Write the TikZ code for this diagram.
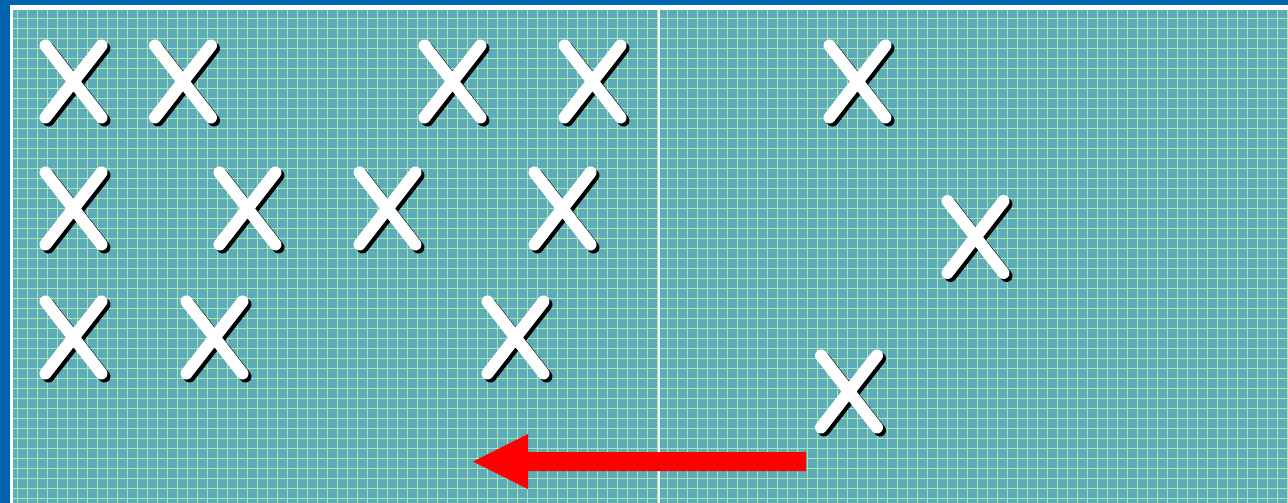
\documentclass[tikz,border=0pt]{standalone}
\usetikzlibrary{calc}
\definecolor{frameblue}{RGB}{0,99,176}
\definecolor{tealbg}{RGB}{94,172,186}
\definecolor{gridgreen}{RGB}{168,232,176}
\definecolor{arrowred}{RGB}{255,0,0}
\begin{document}
\begin{tikzpicture}[x=1pt,y=-1pt,
  gridline/.style={gridgreen,line width=0.9pt},
  shadowline/.style={black,line width=12pt,line cap=round},
  crossline/.style={white,line width=12pt,line cap=round},
  cross/.pic={
    \draw[shadowline] (-25,-33)--(31,39) (31,-33)--(-25,39);
    \draw[crossline] (-28,-36)--(28,36) (28,-36)--(-28,36);
  }]
\useasboundingbox (0,0) rectangle (1288,503);
\fill[frameblue] (0,0) rectangle (1288,503);
\fill[white] (10,5) rectangle (1288,503);
\fill[tealbg] (12.5,10.5) rectangle (1288,503);
\begin{scope}
  \clip (12.5,10.5) rectangle (1288,503);
  \foreach \i in {0,...,128} \draw[gridline] ({7+10*\i},10) -- ({7+10*\i},503);
  \foreach \j in {0,...,50} \draw[gridline] (12,{8+10*\j}) -- (1288,{8+10*\j});
\end{scope}
\coordinate (divtop) at (659,10.5);
\coordinate (divbot) at (659,503);
\draw[white,line width=2.8pt] (divtop) -- (divbot);
% crosses
\foreach \cx/\cy in {73.5/81.5,183/81.5,452.5/81.5,592.5/81.5,857.5/81.5,
  73.5/208.5,247.5/208.5,387.5/208.5,562.5/208.5,975.5/237,
  73.5/337.5,214.5/337.5,515.5/337.5,849/391.5}
  \pic at (\cx,\cy) {cross};
% arrow
\coordinate (arrowtail) at (806,461.5);
\coordinate (arrowtip) at (473,461.5);
\fill[arrowred] ($(arrowtail)+(0,-9.5)$) -- (528,452) -- (528,434) -- (arrowtip)
  -- (528,489) -- (528,471) -- ($(arrowtail)+(0,9.5)$) -- cycle;
\end{tikzpicture}
\end{document}
